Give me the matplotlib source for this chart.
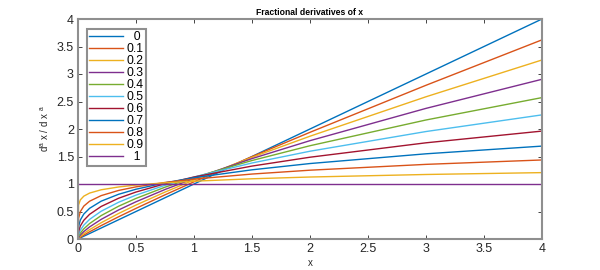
import matplotlib
matplotlib.use("Agg")
import matplotlib.pyplot as plt

plt.rcParams['font.family'] = ['Liberation Sans', 'DejaVu Sans']
plt.rcParams['mathtext.fontset'] = 'custom'
plt.rcParams['mathtext.rm'] = 'Liberation Sans'
plt.rcParams['mathtext.it'] = 'Liberation Sans'

orders = ["0", "0.1", "0.2", "0.3", "0.4", "0.5", "0.6", "0.7", "0.8", "0.9", "1"]
legend_labels = ["  0", "0.1", "0.2", "0.3", "0.4", "0.5", "0.6", "0.7", "0.8", "0.9", "  1"]

x = [0, 0.005, 0.02, 0.05, 0.1, 0.2, 0.35, 0.5, 0.75, 1, 1.5, 2, 3, 4]

d_00 = [0, 0.005, 0.02, 0.05, 0.1, 0.2, 0.35, 0.5, 0.75, 1, 1.5, 2, 3, 4]
d_01 = [0, 0.009, 0.031, 0.070, 0.131, 0.244, 0.404, 0.557, 0.803, 1.040, 1.498, 1.940, 2.795, 3.621]
d_02 = [0, 0.015, 0.047, 0.098, 0.170, 0.296, 0.464, 0.617, 0.853, 1.074, 1.485, 1.869, 2.586, 3.255]
d_03 = [0, 0.027, 0.071, 0.135, 0.220, 0.357, 0.528, 0.677, 0.900, 1.101, 1.462, 1.788, 2.375, 2.904]
d_04 = [0, 0.047, 0.107, 0.185, 0.281, 0.426, 0.596, 0.738, 0.942, 1.119, 1.427, 1.696, 2.164, 2.571]
d_05 = [0, 0.080, 0.160, 0.252, 0.357, 0.505, 0.668, 0.798, 0.977, 1.128, 1.382, 1.596, 1.954, 2.257]
d_06 = [0, 0.135, 0.236, 0.340, 0.449, 0.592, 0.741, 0.854, 1.005, 1.127, 1.326, 1.487, 1.749, 1.962]
d_07 = [0, 0.227, 0.345, 0.454, 0.558, 0.688, 0.813, 0.905, 1.022, 1.114, 1.258, 1.372, 1.549, 1.689]
d_08 = [0, 0.377, 0.498, 0.598, 0.687, 0.789, 0.883, 0.948, 1.028, 1.089, 1.181, 1.251, 1.357, 1.437]
d_09 = [0, 0.619, 0.711, 0.779, 0.835, 0.895, 0.946, 0.981, 1.021, 1.051, 1.095, 1.127, 1.173, 1.207]
d_10 = [1, 1, 1, 1, 1, 1, 1, 1, 1, 1, 1, 1, 1, 1]

series = [d_00, d_01, d_02, d_03, d_04, d_05, d_06, d_07, d_08, d_09, d_10]

xticks = [0, 0.5, 1, 1.5, 2, 2.5, 3, 3.5, 4]
yticks = [0, 0.5, 1, 1.5, 2, 2.5, 3, 3.5, 4]
xticklabels = ["0", "0.5", "1", "1.5", "2", "2.5", "3", "3.5", "4"]
yticklabels = ["0", "0.5", "1", "1.5", "2", "2.5", "3", "3.5", "4"]

colors = ['#0072BD', '#D95319', '#EDB120', '#7E2F8E', '#77AC30', '#4DBEEE', '#A2142F']

fig = plt.figure(figsize=(6, 2.7), dpi=100)
ax = fig.add_axes([78/600, 1-239/270, (542-78)/600, (239-19)/270])

for i, (ys, lab) in enumerate(zip(series, legend_labels)):
    ax.plot(x, ys, color=colors[i % len(colors)], lw=1.0, label=lab)

ax.set_xlim(0, 4)
ax.set_ylim(0, 4)
ax.set_xticks(xticks)
ax.set_xticklabels(xticklabels)
ax.set_yticks(yticks)
ax.set_yticklabels(yticklabels)
ax.tick_params(direction='in', length=3, width=0.6, color='#262626',
               labelsize=9, top=True, right=True, pad=3, labelcolor='#262626')
for s in ax.spines.values():
    s.set_color('#8f8f8f')
    s.set_linewidth(1.5)

ax.set_title("Fractional derivatives of x", fontsize=6.2, fontweight='bold', pad=3)
ax.set_xlabel("x", fontsize=7, labelpad=2, color='#262626')
ax.set_ylabel(r"d$^{\rm a}$ x / d x $^{\rm a}$", fontsize=7, labelpad=4, color='#262626')

leg = ax.legend(loc='upper left', bbox_to_anchor=(9/464, 1-10/220), fontsize=8.7,
                handlelength=2.8, handletextpad=0.3, labelspacing=0.0,
                borderpad=0.2, borderaxespad=0, fancybox=False, framealpha=1)
leg.get_frame().set_edgecolor('#8f8f8f')
leg.get_frame().set_linewidth(1.5)

fig.savefig("out.png", dpi=100)
